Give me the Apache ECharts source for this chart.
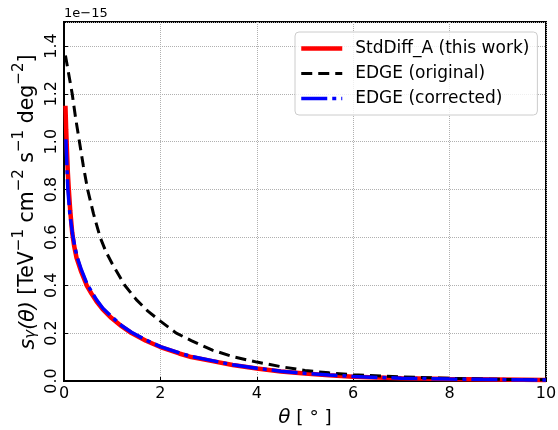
<!DOCTYPE html>
<html>
<head>
<meta charset="utf-8">
<script src="https://cdn.jsdelivr.net/npm/echarts@6/dist/echarts.min.js"></script>
<style>html,body{margin:0;padding:0;background:#fff;}#c{width:558px;height:430px;}</style>
</head>
<body>
<div id="c"></div>
<script>
// values in units of 1e-15 TeV^-1 cm^-2 s^-1 deg^-2
var stdDiffA = [[0.03,1.15],[0.045,1.05],[0.06,0.97],[0.08,0.87],[0.1,0.8],[0.13,0.71],[0.17,0.62],[0.21,0.565],[0.26,0.515],[0.35,0.46],[0.47,0.4],[0.57,0.365],[0.67,0.334],[0.8,0.3],[0.98,0.264],[1.2,0.228],[1.4,0.2],[1.7,0.168],[2,0.142],[2.39,0.115],[2.64,0.10],[3.08,0.083],[3.5,0.067],[4,0.052],[4.5,0.04],[5,0.031],[5.5,0.024],[6,0.018],[6.5,0.015],[7,0.012],[8,0.008],[9,0.006],[10,0.004]];
var edgeOriginal = [[0.03,1.36],[0.1,1.28],[0.17,1.2],[0.24,1.1],[0.32,1.0],[0.4,0.9],[0.49,0.8],[0.61,0.7],[0.75,0.6],[0.87,0.54],[1.0,0.49],[1.26,0.4],[1.5,0.34],[1.74,0.292],[2,0.25],[2.33,0.2],[2.64,0.169],[3.08,0.129],[3.5,0.102],[4,0.079],[4.5,0.06],[5,0.044],[5.5,0.034],[6,0.026],[7,0.017],[8,0.011],[9,0.007],[10,0.005]];
var edgeCorrected = [[0.04,1.01],[0.06,0.9],[0.08,0.8],[0.12,0.7],[0.18,0.61],[0.22,0.565],[0.27,0.52],[0.36,0.465],[0.48,0.405],[0.58,0.37],[0.68,0.338],[0.81,0.303],[1.0,0.267],[1.2,0.231],[1.4,0.204],[1.7,0.171],[2,0.144],[2.4,0.117],[2.65,0.102],[3.1,0.084],[3.5,0.068],[4,0.053],[4.5,0.041],[5,0.032],[5.5,0.025],[6,0.019],[6.5,0.015],[7,0.012],[8,0.008],[9,0.006],[10,0.004]];
var seriesNames = ['StdDiff_A (this work)','EDGE (original)','EDGE (corrected)'];
var xTicks = [0,2,4,6,8,10];
var yTicks = [0.0,0.2,0.4,0.6,0.8,1.0,1.2,1.4];

var chart = echarts.init(document.getElementById('c'));
var font = 'DejaVu Sans';
chart.setOption({
  animation:false,
  textStyle:{fontFamily:font},
  grid:{left:64,right:12,top:22,bottom:49,outerBoundsMode:'none',containLabel:false,show:true,borderColor:'#000',borderWidth:2,backgroundColor:'transparent'},
  graphic:[
    {type:'text',left:64,top:7,style:{text:'1e\u221215',font:'13px "DejaVu Sans"',fill:'#000'}},
    {type:'text',x:25,y:202,rotation:Math.PI/2,style:{
      text:'{i|s}{sub|γ}{i|(θ)}{n| [TeV}{sup|−1}{n| cm}{sup|−2}{n| s}{sup|−1}{n| deg}{sup|−2}{n|]}',
      align:'center',verticalAlign:'middle',fill:'#000',
      rich:{
        i:{fontSize:20.5,fontStyle:'italic',fontFamily:font,lineHeight:27,verticalAlign:'bottom'},
        n:{fontSize:20.5,fontFamily:font,lineHeight:27,verticalAlign:'bottom'},
        sub:{fontSize:15,fontStyle:'italic',fontFamily:font,lineHeight:15,verticalAlign:'bottom'},
        sup:{fontSize:15,fontFamily:font,lineHeight:15,verticalAlign:'top'}}}}
  ],
  legend:{
    orient:'vertical',left:295,top:32,
    padding:[8,8,8,4],itemGap:8,itemWidth:41,itemHeight:14,
    borderColor:'#cccccc',borderWidth:1,borderRadius:4,backgroundColor:'rgba(255,255,255,0.8)',
    textStyle:{fontSize:17,color:'#000',fontFamily:font,padding:[0,0,0,8]},
    itemStyle:{opacity:0},
    lineStyle:{width:'inherit'},
    data:seriesNames
  },
  xAxis:{
    type:'value',min:0,max:10,interval:2,
    name:'{i|θ}{n| [ ° ]}',nameLocation:'middle',nameGap:27,
    nameTextStyle:{fontSize:18,color:'#000',rich:{i:{fontSize:20,fontStyle:'italic',fontFamily:font},n:{fontSize:18.5,fontFamily:font}}},
    axisLine:{show:true,lineStyle:{color:'#000',width:2}},
    axisTick:{show:true,inside:true,length:4,lineStyle:{color:'#000'}},
    axisLabel:{fontSize:16,color:'#000',margin:5,formatter:function(v){return xTicks.indexOf(v)>=0?String(v):'';}},
    splitLine:{show:true,lineStyle:{color:'#b0b0b0',width:1,type:'dotted'}}
  },
  yAxis:{
    type:'value',min:0,max:1.5,interval:0.2,
    axisLine:{show:true,lineStyle:{color:'#000',width:2}},
    axisTick:{show:true,inside:true,length:4,lineStyle:{color:'#000'}},
    axisLabel:{fontSize:16,color:'#000',margin:4,rotate:90,showMaxLabel:false,formatter:function(v){return v.toFixed(1);}},
    splitLine:{show:true,lineStyle:{color:'#b0b0b0',width:1,type:'dotted'}}
  },
  series:[
    {name:seriesNames[0],type:'line',data:stdDiffA,symbol:'none',lineStyle:{color:'#ff0000',width:4.5},itemStyle:{color:'#ff0000'},z:2},
    {name:seriesNames[1],type:'line',data:edgeOriginal,symbol:'none',lineStyle:{color:'#000000',width:3,type:[11,6]},itemStyle:{color:'#000'},z:3},
    {name:seriesNames[2],type:'line',data:edgeCorrected,symbol:'none',lineStyle:{color:'#0000ff',width:3.5,type:[26,5,4,5]},itemStyle:{color:'#0000ff'},z:4}
  ]
});
</script>
</body>
</html>
